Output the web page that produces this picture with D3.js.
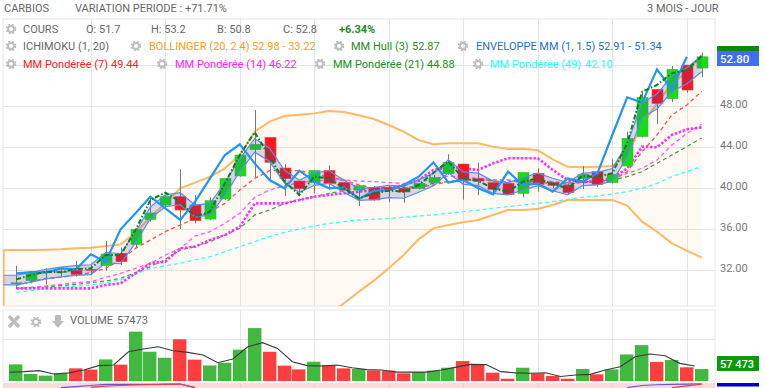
<!DOCTYPE html>
<html><head><meta charset="utf-8">
<style>html,body{margin:0;padding:0;background:#fff}svg{display:block}text{font-family:Roboto,sans-serif}</style>
<script src="https://cdn.jsdelivr.net/npm/d3@7"></script></head><body><div id="c"></div>
<script>
const opens=[30.7,30.96,31.8,31.84,31.97,32.07,32.42,33.63,34.5,36.94,38.34,39.15,38.34,36.97,38.93,41.17,43.74,44.94,41.95,40.68,40.55,41.72,40.55,39.8,40.06,40.03,39.97,39.97,40.52,41.4,42.34,40.91,40.52,40.45,39.48,41.43,40.52,40.29,40.94,41.6,40.52,42.15,45.01,49.63,48.72,52.0,51.7];
const closes=[30.75,31.67,31.85,31.86,31.58,32.05,33.56,32.81,35.97,37.56,39.15,37.85,36.81,38.76,40.94,43.22,44.26,42.5,40.91,39.93,41.72,40.45,39.8,40.23,38.83,39.87,39.61,40.45,41.04,42.5,40.78,40.68,39.87,39.38,41.53,40.36,40.26,39.55,41.33,40.36,41.33,44.85,48.85,48.26,51.58,49.56,52.8];
const highs=[32.42,31.84,32.16,32.16,32.88,32.49,34.83,34.21,36.07,39.15,39.32,41.82,39.32,39.09,40.94,43.38,47.61,44.94,42.34,40.68,41.72,42.18,40.55,40.23,40.19,40.19,40.19,40.45,41.27,43.3,42.34,42.47,40.52,40.45,41.53,41.92,40.62,40.46,42.15,41.6,42.8,45.5,49.4,49.63,51.9,52.0,53.2];
const lows=[30.21,30.7,30.6,31.35,31.35,31.51,31.93,32.49,34.18,36.72,38.18,36.0,36.55,36.88,38.83,41.1,41.04,40.55,39.22,39.32,39.48,39.87,39.74,38.24,38.76,38.6,38.57,39.87,40.45,41.27,38.86,39.3,39.38,39.38,39.09,39.64,39.97,39.42,39.9,40.07,40.46,42.08,44.94,46.25,48.39,49.3,50.8];
const bollUpper=[33.95,33.95,33.95,33.98,34.02,34.11,34.18,34.34,34.5,35.64,37.2,38.5,39.97,40.52,41.1,41.92,43.22,45.5,46.47,47.02,47.15,47.28,47.51,47.41,47.09,46.73,46.15,45.5,44.68,44.26,44.36,44.36,44.36,44.03,43.8,43.84,43.68,42.8,42.08,42.02,42.08,42.15,43.22,46.15,48.26,50.21,51.35,52.98];
const bollLower=[26,26,26,26,26,26,26,26,26,26,26,26,26,26,26,26,26,26,26,26,26,26,27.6,28.75,29.89,30.96,32.16,33.46,34.99,36.06,36.39,36.65,36.88,37.36,37.85,37.85,37.95,38.34,38.83,38.83,38.83,38.83,38.28,36.72,35.74,34.6,33.89,33.22];
const envUpper=[31.49,31.49,31.76,32.07,32.28,32.43,32.51,33.69,33.61,35.71,38.15,39.33,39.54,38.33,38.5,40.51,42.85,44.82,43.88,41.73,40.75,41.48,41.68,40.76,39.97,40.05,40.27,40.18,40.79,41.43,42.75,41.57,41.45,40.67,40.52,41.02,41.45,40.95,40.53,41.45,41.52,41.9,44.3,48.29,49.17,50.9,51.7,52.91];
const envLower=[30.55,30.55,30.82,31.13,31.32,31.47,31.55,32.69,32.61,34.65,37.03,38.17,38.38,37.19,37.36,39.31,41.59,43.5,42.58,40.49,39.55,40.26,40.44,39.56,38.79,38.87,39.07,39.0,39.59,40.21,41.49,40.35,40.23,39.47,39.32,39.8,40.23,39.73,39.33,40.23,40.3,40.66,43.0,46.87,47.71,49.4,50.18,51.34];
const hull=[31.09,31.51,31.84,31.77,32.1,32.16,33.46,33.46,35.9,38.83,39.55,38.67,37.2,37.69,40.45,43.22,45.43,43.06,40.62,39.32,41.1,40.94,39.97,38.99,39.48,39.74,39.64,40.29,41.49,42.57,40.94,40.68,39.97,39.64,40.62,40.94,40.39,39.97,41.17,41.11,41.43,44.36,49.4,50.05,51.19,51.51,52.88];
const ichiLag=[31.67,31.8,31.74,32.16,32.05,33.53,32.81,35.97,37.53,39.15,38.02,36.88,38.67,40.94,43.22,44.26,42.4,40.78,39.97,41.69,40.62,39.97,40.06,38.93,39.74,39.74,40.29,41.1,42.5,40.52,40.78,39.97,39.38,41.6,40.29,40.46,39.64,40.94,40.62,41.43,45.17,48.85,48.33,51.58,49.63,52.8];
const ichiBase=[30.21,30.21,30.21,30.21,30.21,30.21,30.54,30.7,31.67,32.65,32.81,34.11,34.28,34.93,35.41,36.23,38.5,38.5,38.5,38.83,39.15,39.32,39.48,39.64,39.8,39.97,40.29,40.78,41.76,42.08,41.92,41.76,42.41,42.9,42.9,42.9,41.76,40.78,40.62,40.62,40.94,41.92,44.03,43.97,45.17,45.72,45.92];
const wma7=[30.5,30.86,31.19,31.29,31.51,31.74,32.16,32.98,34.11,34.93,35.74,36.39,37.04,37.69,38.5,39.8,40.94,41.69,41.69,41.69,41.37,41.04,40.78,40.29,39.97,39.97,39.97,40.06,40.29,40.62,40.78,40.84,40.68,40.62,40.62,40.62,40.39,40.29,40.62,40.62,40.78,41.59,43.55,45.17,47.12,48.1,49.44];
const wma14=[30.21,30.31,30.44,30.6,30.76,30.86,31.3,31.67,32.16,32.65,33.46,34.11,35.32,35.74,36.55,37.53,39.09,39.8,40.19,40.52,40.68,40.78,40.78,40.68,40.62,40.52,40.45,40.62,40.84,41.17,41.04,40.94,40.84,40.78,40.68,40.78,40.62,40.46,40.62,40.62,40.85,41.43,41.92,42.73,44.2,45.33,46.22];
const wma21=[30.18,30.28,30.37,30.47,30.6,30.76,30.93,31.19,31.74,32.33,33.04,33.95,34.28,34.76,35.41,36.07,37.36,37.85,38.5,38.83,39.15,39.48,39.74,39.97,40.06,40.06,40.06,40.13,40.45,40.62,40.78,40.78,40.78,40.78,40.52,40.62,40.52,40.46,40.52,40.62,40.78,41.11,41.59,42.41,43.22,44.03,44.88];
const wma49=[29.82,29.98,30.21,30.31,30.44,30.54,30.76,31.02,31.61,32.16,32.42,32.65,32.98,33.3,33.79,34.28,34.76,35.25,35.67,36.0,36.29,36.55,36.72,36.88,36.94,37.04,37.14,37.27,37.36,37.53,37.69,37.85,38.02,38.18,38.34,38.5,38.67,38.89,39.09,39.22,39.42,39.64,39.97,40.46,41.11,41.59,42.1];
const volumes=[80,34,26,37,61,55,104,79,238,141,112,201,103,75,88,151,255,141,74,56,93,77,61,58,51,50,37,43,50,64,96,80,40,11,64,37,24,11,58,32,56,128,173,92,101,66,57.473];
const volAvg=[42,45,50,34,39,53,74,77,141,154,165,146,138,125,88,106,165,185,157,93,74,72,77,64,55,53,43,43,43,53,67,80,79,45,39,37,40,22,29,32,53,69,117,130,122,85,72];
const oscPurple=[null,null,null,10,40,70,100,100,102,104,106,108,10,null,null,null,60,null,null,null,null,null,null,null,null,null,null,null,null,null,null,null,null,null,null,null,null,null,null,null,null,10,70,90,100,108,118];
const oscRed=[null,null,null,null,null,20,50,70,85,90,98,110,10,null,null,null,null,null,null,null,null,null,null,null,null,null,null,null,null,null,null,null,null,null,null,null,null,null,null,null,null,null,null,null,10,60,105];
const priceTicks=[32,36,40,44,48,52];
const priceLabels=[32,36,40,44,48];
const volTicks=[0,200];
const gridBars=[5,10,15,20,25,30,35,40,45];
const headerLeft=["CARBIOS","VARIATION PERIODE : +71.71%"];
const headerRight="3 MOIS - JOUR";

const W=765,H=388;
const svg=d3.select("#c").append("svg").attr("width",W).attr("height",H);
const L=3,R=715,PT=19,PB=306,VT=310,VB=381,OT=383;
const x=d3.scaleLinear().domain([0,46]).range([16.3,701.7]);
const y=d3.scaleLinear().domain([32,52]).range([270,65]);
const yV=d3.scaleLinear().domain([0,200]).range([381,339.5]);
const yO=d3.scaleLinear().domain([0,100]).range([388,384.4]);
const defs=svg.append("defs");
defs.append("clipPath").attr("id","cp").append("rect").attr("x",L).attr("y",PT).attr("width",R-L).attr("height",PB-PT);
defs.append("clipPath").attr("id","cv").append("rect").attr("x",L).attr("y",VT).attr("width",R-L).attr("height",VB-VT);
defs.append("clipPath").attr("id","cl").append("rect").attr("x",715).attr("y",0).attr("width",50).attr("height",383);

const gridC="#e6e6e6";
svg.append("rect").attr("x",L).attr("y",PT).attr("width",R-L).attr("height",PB-PT).attr("fill","#fff").attr("stroke",gridC).attr("stroke-width",1);
svg.append("rect").attr("x",L).attr("y",VT).attr("width",R-L).attr("height",VB-VT).attr("fill","#fff").attr("stroke",gridC).attr("stroke-width",1);
svg.append("rect").attr("x",L).attr("y",OT).attr("width",R-L).attr("height",H-OT).attr("fill","#fdd9d9");
const grid=svg.append("g").attr("stroke",gridC).attr("stroke-width",1);
grid.selectAll(".p").data(priceTicks).join("line").attr("x1",L).attr("x2",R).attr("y1",d=>Math.round(y(d))+.5).attr("y2",d=>Math.round(y(d))+.5);
grid.selectAll(".a").data(gridBars).join("line").attr("x1",d=>Math.round(x(d))+.5).attr("x2",d=>Math.round(x(d))+.5).attr("y1",PT).attr("y2",PB);
grid.selectAll(".b").data(gridBars).join("line").attr("x1",d=>Math.round(x(d))+.5).attr("x2",d=>Math.round(x(d))+.5).attr("y1",VT).attr("y2",VB);
grid.append("line").attr("x1",L).attr("x2",R).attr("y1",339.5).attr("y2",339.5);
svg.append("g").attr("stroke","#f3c9c9").selectAll("line").data(gridBars).join("line").attr("x1",d=>Math.round(x(d))+.5).attr("x2",d=>Math.round(x(d))+.5).attr("y1",OT).attr("y2",H);

const plot=svg.append("g").attr("clip-path","url(#cp)");
const xb=(d,i)=>i===0?x(-0.85):x(i-1);
plot.append("path").datum(bollUpper).attr("fill","#ff9a2e").attr("fill-opacity",.06)
 .attr("d",d3.area().x(xb).y0((d,i)=>y(bollLower[i])).y1(d=>y(d)));
const lineB=d3.line().x(xb).y(d=>y(d));
plot.append("path").datum(bollUpper).attr("d",lineB).attr("fill","none").attr("stroke","#ffb866").attr("stroke-width",2);
plot.append("path").datum(bollLower).attr("d",lineB).attr("fill","none").attr("stroke","#ffb866").attr("stroke-width",2);
plot.append("line").attr("x1",x(-0.85)).attr("x2",x(-0.85)).attr("y1",y(bollUpper[0])).attr("y2",PB).attr("stroke","#ffb866").attr("stroke-width",2);
const line=d3.line().x((d,i)=>x(i)).y(d=>y(d));
function ser(g,data,c,w,dash){g.append("path").datum(data).attr("d",line).attr("fill","none").attr("stroke",c).attr("stroke-width",w).attr("stroke-dasharray",dash);}
ser(plot,wma49,"#33ffff",1.3,"4 3");
ser(plot,wma21,"#3f9a3f",1.2,"4 3");
ser(plot,wma14,"#ff55ff",1.3,"4 3");
ser(plot,wma7,"#ff5050",1.3,"4 3");
ser(plot,ichiBase,"#ff2bff",2.6,"2.4 1.8");
const ids=d3.range(opens.length);
plot.append("g").selectAll("line").data(ids).join("line")
 .attr("x1",i=>Math.round(x(i))+.5).attr("x2",i=>Math.round(x(i))+.5).attr("y1",i=>y(highs[i])).attr("y2",i=>y(lows[i]))
 .attr("stroke","#777").attr("stroke-width",1);
plot.append("g").selectAll("rect").data(ids).join("rect")
 .attr("x",i=>Math.round(x(i))-5).attr("width",11)
 .attr("y",i=>y(Math.max(opens[i],closes[i])))
 .attr("height",i=>Math.max(1,Math.abs(y(opens[i])-y(closes[i]))))
 .attr("fill",i=>closes[i]>=opens[i]?"#11e011":"#ff1420")
 .attr("stroke",i=>closes[i]>=opens[i]?"#5aa85a":"#e05050").attr("stroke-width",.6);
plot.append("path").datum(envUpper).attr("fill","#3a3fb0").attr("fill-opacity",.2)
 .attr("d",d3.area().x(xb).y0((d,i)=>y(envLower[i])).y1(d=>y(d)));
plot.append("path").datum(envUpper).attr("d",lineB).attr("fill","none").attr("stroke","#5b8ee0").attr("stroke-width",1.2);
plot.append("path").datum(envLower).attr("d",lineB).attr("fill","none").attr("stroke","#5b8ee0").attr("stroke-width",1.2);
ser(plot,ichiLag,"#2196f3",2.2,null);
ser(plot,hull,"#0c7f1c",2,"5 2 1.5 2");

const vp=svg.append("g").attr("clip-path","url(#cv)");
vp.selectAll("rect").data(ids).join("rect")
 .attr("x",i=>Math.round(x(i))-7).attr("width",13.4)
 .attr("y",i=>yV(volumes[i])).attr("height",i=>yV(0)-yV(volumes[i]))
 .attr("fill",i=>closes[i]>=opens[i]?"#41b941":"#ff3f3f");
vp.append("path").datum(volAvg).attr("d",d3.line().x((d,i)=>x(i-.47)).y(d=>yV(d))).attr("fill","none").attr("stroke","#3a3a3a").attr("stroke-width",1.1);

const oLine=d3.line().defined(d=>d!==null).x((d,i)=>x(i)).y(d=>yO(d));
svg.append("path").datum(oscPurple).attr("d",oLine).attr("fill","none").attr("stroke","#6a4fd8").attr("stroke-width",1.2);
svg.append("path").datum(oscRed).attr("d",oLine).attr("fill","none").attr("stroke","#f03a4a").attr("stroke-width",1.2);

const ax=svg.append("g").attr("transform","translate(716,0)").call(d3.axisRight(y).tickValues(priceLabels).tickSize(0).tickPadding(4).tickFormat(d3.format(".2f")));
ax.select(".domain").remove();
ax.selectAll("text").attr("font-size",11).attr("fill","#777").attr("font-family","Roboto,sans-serif").attr("dy","0.1em");
const av=svg.append("g").attr("transform","translate(716,0)").attr("clip-path","url(#cl)").call(d3.axisRight(yV).tickValues(volTicks).tickSize(0).tickPadding(4).tickFormat(d=>d===0?"0.0000K":"200.0K"));
av.select(".domain").remove();
av.selectAll("text").attr("font-size",11).attr("fill","#777").attr("font-family","Roboto,sans-serif").attr("dy","0.1em");

svg.append("rect").attr("x",717).attr("y",46).attr("width",42).attr("height",8).attr("fill","#0b8a0b");
svg.append("rect").attr("x",717).attr("y",51).attr("width",42).attr("height",15).attr("fill","#3f6df5");
svg.append("text").attr("x",720).attr("y",63).attr("font-size",11.5).attr("font-weight",500).attr("fill","#fff").text("52.80");
svg.append("rect").attr("x",717).attr("y",356).attr("width",42).attr("height",15).attr("fill","#0b9a0b");
svg.append("text").attr("x",720).attr("y",368).attr("font-size",11).attr("font-weight",500).attr("fill","#fff").text("57 473");
svg.append("rect").attr("x",717).attr("y",383).attr("width",42).attr("height",3.5).attr("fill","#0000c8");

function T(xp,yp,s,c,o={}){return svg.append("text").attr("x",xp).attr("y",yp).attr("font-size",o.fs||11).attr("font-weight",o.w||400).attr("fill",c).text(s);}
function gear(cx,cy){const g=svg.append("g").attr("fill","none").attr("stroke","#bdbdbd");
 g.append("circle").attr("cx",cx).attr("cy",cy).attr("r",3).attr("stroke-width",1.8);
 g.append("circle").attr("cx",cx).attr("cy",cy).attr("r",4.5).attr("stroke-width",1.6).attr("stroke-dasharray","2 1.6");}
T(4,12,headerLeft[0],"#666");T(75,12,headerLeft[1],"#666");T(647,12,headerRight,"#666");
const grey="#666";
const legend=[[11,29],[11,46],[136,46],[339,46],[463,46],[11,64],[162,64],[320,64],[478,64]];
legend.forEach(d=>gear(d[0],d[1]));
T(23,33,"COURS",grey);T(86,33,"O: 51.7",grey);T(151,33,"H: 53.2",grey);T(217,33,"B: 50.8",grey);T(283,33,"C: 52.8",grey);
T(339,33,"+6.34%","#1a8f1a",{w:700});
T(23,50,"ICHIMOKU (1, 20)",grey);
T(149,50,"BOLLINGER (20, 2.4)","#ff9a1a");T(252,50,"52.98 - 33.22","#ff9a1a");
T(351,50,"MM Hull (3)","#1a8f1a");T(412,50,"52.87","#1a8f1a");
T(476,50,"ENVELOPPE MM (1, 1.5)","#1f6fc8");T(598,50,"52.91 - 51.34","#1f6fc8");
T(23,68,"MM Pondérée (7)","#ff2020");T(111,68,"49.44","#ff2020");
T(175,68,"MM Pondérée (14)","#ff22ff");T(269,68,"46.22","#ff22ff");
T(333,68,"MM Pondérée (21)","#1a8f1a");T(427,68,"44.88","#1a8f1a");
T(490,68,"MM Pondérée (49)","#22ffff");T(585,68,"42.10","#22ffff");
svg.append("path").attr("d","M9 316 L19 327 M19 316 L9 327").attr("stroke","#bdbdbd").attr("stroke-width",3.4).attr("fill","none");
gear(36,322);
svg.append("path").attr("d","M55 315 h6 v6 h3 l-6 7 l-6 -7 h3 z").attr("fill","#bdbdbd");
T(70,324,"VOLUME",grey);T(117,324,"57473",grey);
</script></body></html>
